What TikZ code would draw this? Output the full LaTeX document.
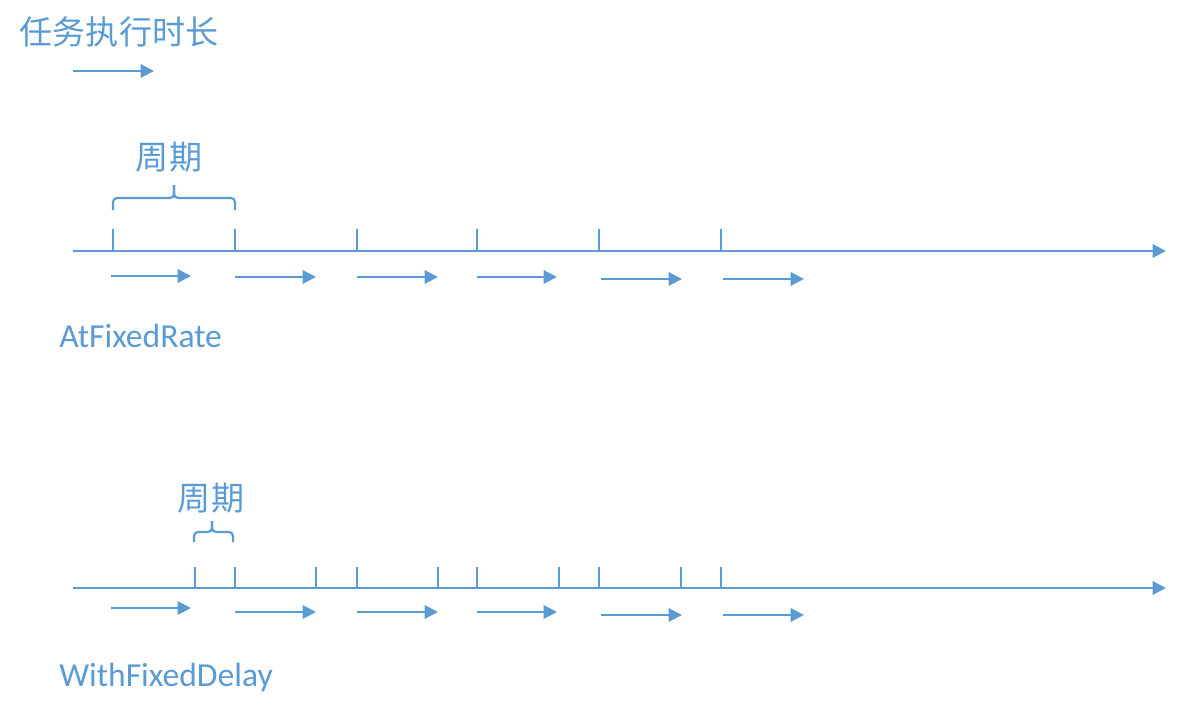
\documentclass[tikz,border=0pt]{standalone}
\usepackage{fontspec}
\setmainfont{Carlito}
\newfontfamily\cjk{Noto Sans CJK SC}
\usetikzlibrary{arrows.meta,positioning}
\definecolor{timeblue}{HTML}{5B9BD5}

\begin{document}
\begin{tikzpicture}[
    x=0.75pt, y=-0.75pt,
    line/.style={
        draw=timeblue,
        line width=1.6pt
    },
    arrow/.style={line, -{Triangle[length=10pt,width=10pt]}},
    tickmark/.style={line},
    brace/.style={line, rounded corners=3pt},
    label/.style={
        text=timeblue,
        inner sep=0pt,
        font=\fontsize{25.2}{29}\selectfont
    },
    cjklabel/.style={label, font=\cjk\fontsize{24.8}{29}\selectfont}
]
\useasboundingbox (0,0) rectangle (1190,710);

% legend
\node[cjklabel] (duration) at (119,32) {任务执行时长};
\coordinate (legendA) at (73,71);
\coordinate (legendB) at (154,71);
\draw[arrow] (legendA) -- (legendB);

% AtFixedRate
\node[cjklabel] (periodA) at (169,157) {周期};
\draw[brace] (113,210) -- (113,198) -- (174,198) -- (174,185);
\draw[brace] (174,185) -- (174,198) -- (235,198) -- (235,210);

\coordinate (rateStart) at (73,251);
\coordinate (rateEnd) at (1166,251);
\draw[arrow] (rateStart) -- (rateEnd);
\foreach \x in {113,235,357,477,599,721}
    \draw[tickmark] (\x,229) -- (\x,251);
\foreach \a/\b/\y in {111/191/276, 235/316/277, 357/438/277,
                      477/557/277, 601/682/279, 723/804/279}
    \draw[arrow] (\a,\y) -- (\b,\y);

\node[label, anchor=base west] (rate) at (59,347) {AtFixedRate};

% WithFixedDelay
\node[cjklabel] (periodB) at (211,498) {周期};
\draw[brace] (194,542) -- (194,532) -- (212,532) -- (212,521);
\draw[brace] (212,521) -- (212,532) -- (233,532) -- (233,542);

\coordinate (delayStart) at (73,588);
\coordinate (delayEnd) at (1166,588);
\draw[arrow] (delayStart) -- (delayEnd);
\foreach \x in {195,235,316,357,438,477,559,599,681,721}
    \draw[tickmark] (\x,567) -- (\x,588);
\foreach \a/\b/\y in {111/191/608, 235/316/612, 357/438/612,
                      477/557/612, 601/682/615, 723/804/615}
    \draw[arrow] (\a,\y) -- (\b,\y);

\node[label, anchor=base west] (delay) at (59,686) {WithFixedDelay};

\end{tikzpicture}
\end{document}
